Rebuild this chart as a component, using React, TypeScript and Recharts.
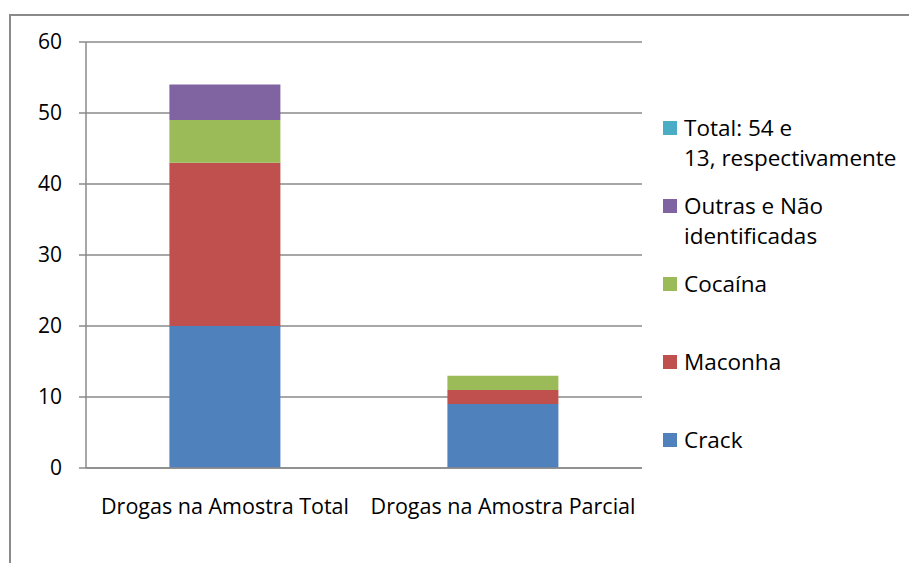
import { BarChart, Bar, XAxis, YAxis, CartesianGrid, Legend } from 'recharts'

const CATEGORIES = ['Drogas na Amostra Total', 'Drogas na Amostra Parcial']
const CRACK = [20, 9]
const MACONHA = [23, 2]
const COCAINA = [6, 2]
const OUTRAS = [5, 0]
const TOTAL = [0, 0]
const Y_TICKS = [0, 10, 20, 30, 40, 50, 60]

const SERIES = [
  { key: 'crack', name: 'Crack', values: CRACK, color: '#4F81BD' },
  { key: 'maconha', name: 'Maconha', values: MACONHA, color: '#C0504D' },
  { key: 'cocaina', name: 'Cocaína', values: COCAINA, color: '#9BBB59' },
  { key: 'outras', name: 'Outras e Não\nidentificadas', values: OUTRAS, color: '#8064A2' },
  { key: 'total', name: 'Total: 54 e\n13, respectivamente', values: TOTAL, color: '#4BACC6' },
]

const data = CATEGORIES.map((name, i) => {
  const row: Record<string, string | number> = { name, edge: i }
  SERIES.forEach((s) => {
    row[s.key] = s.values[i]
  })
  return row
})

const FONT = "'Open Sans', 'Noto Sans', sans-serif"
const GRID = '#8a8a8a'

function LegendBox() {
  return (
    <div style={{ fontFamily: FONT, fontSize: 22.5, color: '#000' }}>
      {[...SERIES].reverse().map((s) => (
        <div key={s.key} style={{ height: 78, display: 'flex', alignItems: 'flex-start' }}>
          <div style={{ width: 14, height: 14, marginTop: 8, background: s.color, flex: 'none' }} />
          <div style={{ marginLeft: 7, lineHeight: '30px', whiteSpace: 'pre-line' }}>{s.name}</div>
        </div>
      ))}
    </div>
  )
}

export default function App() {
  return (
    <div style={{ position: 'absolute', left: 0, top: 0, width: 909, height: 563, overflow: 'hidden', background: '#fff' }}>
      <div
        style={{
          position: 'absolute',
          left: 9,
          top: 14,
          width: 1000,
          height: 700,
          border: `2px solid ${GRID}`,
        }}
      />
      <div style={{ position: 'absolute', left: 0, top: 0 }}>
        <BarChart
          width={909}
          height={563}
          data={data}
          barCategoryGap="30%"
          margin={{ top: 42, right: 267, bottom: 34, left: 0 }}
          style={{ fontFamily: FONT }}
        >
          <CartesianGrid vertical={false} stroke={GRID} strokeWidth={1.5} />
          <XAxis
            xAxisId="edge"
            dataKey="edge"
            type="number"
            domain={[0, 2]}
            ticks={[0, 1, 2]}
            allowDataOverflow
            height={1}
            tick={false}
            tickSize={7}
            axisLine={false}
            tickLine={{ stroke: GRID, strokeWidth: 1.5 }}
          />
          <XAxis
            xAxisId="cat"
            dataKey="name"
            height={60}
            tickSize={0}
            tickMargin={31}
            axisLine={{ stroke: GRID, strokeWidth: 1.5 }}
            tickLine={false}
            tick={{ fontSize: 21.5, fill: '#000', fontFamily: FONT }}
          />
          <YAxis
            width={86}
            domain={[0, 60]}
            ticks={Y_TICKS}
            tickSize={7}
            tickMargin={17}
            axisLine={{ stroke: GRID, strokeWidth: 1.5 }}
            tickLine={{ stroke: GRID, strokeWidth: 1.5 }}
            tick={{ fontSize: 21, fill: '#000', fontFamily: FONT }}
          />
          <Legend
            layout="vertical"
            align="center"
            verticalAlign="middle"
            wrapperStyle={{ left: 663, top: 113, width: 246 }}
            content={() => <LegendBox />}
          />
          {SERIES.map((s) => (
            <Bar
              key={s.key}
              xAxisId="cat"
              dataKey={s.key}
              name={s.name}
              stackId="a"
              fill={s.color}
              isAnimationActive={false}
            />
          ))}
        </BarChart>
      </div>
    </div>
  )
}
